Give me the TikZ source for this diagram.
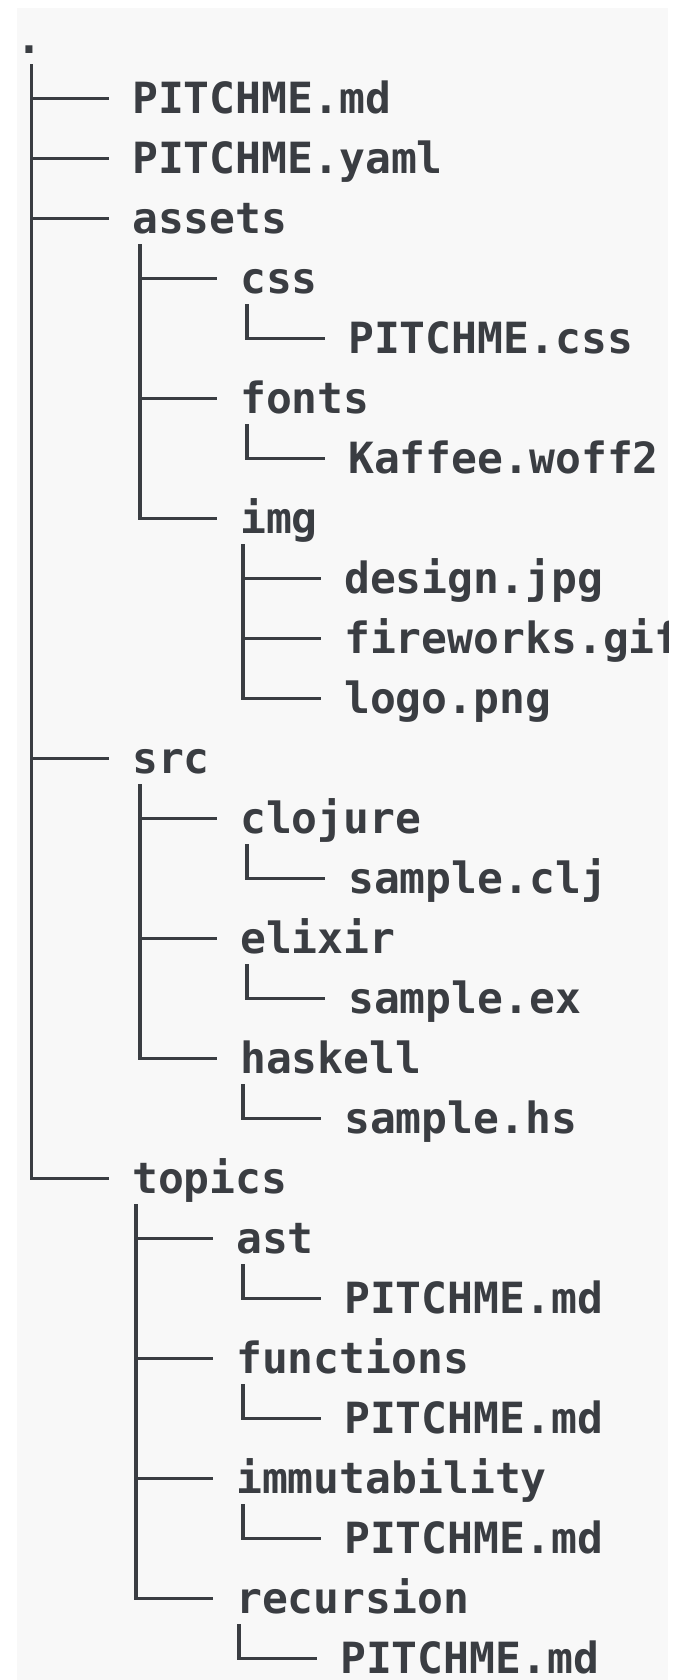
\documentclass[tikz,border=0pt]{standalone}
\usepackage{fontspec}
\usetikzlibrary{calc}
\newfontfamily\treefont{DejaVu Sans Mono}
\definecolor{ink}{HTML}{3A3D42}
\definecolor{paper}{HTML}{F8F8F8}
\tikzset{
  entry/.style={anchor=west, inner sep=0pt, text height=31pt, text depth=0pt,
    text=ink, font=\treefont\bfseries\fontsize{43}{43}\selectfont},
  tree/.style={draw=ink, line width=3.5pt}
}
\newcommand\conn[3]{\draw[tree] ($(#1.west)+(#2,26)$) |- ($(#3.west)+(-23,0)$);}
\begin{document}
\begin{tikzpicture}[x=1pt,y=-1pt]
\useasboundingbox (0,0) rectangle (681,1680);
\fill[white] (0,0) rectangle (681,1680);
\fill[paper] (17,8) rectangle (668,1680);
\begin{scope}
\clip (17,8) rectangle (668,1680);
% rows: y = 38.3 + 60 i
\node[entry] (root)   at (16,38.3)   {.};
\node[entry] (pmd)    at (132,98.3)  {PITCHME.md};
\node[entry] (pyaml)  at (132,158.3) {PITCHME.yaml};
\node[entry] (assets) at (132,218.3) {assets};
\node[entry] (css)    at (240,278.3) {css};
\node[entry] (pcss)   at (348,338.3) {PITCHME.css};
\node[entry] (fonts)  at (240,398.3) {fonts};
\node[entry] (kaffee) at (348,458.3) {Kaffee.woff2};
\node[entry] (img)    at (240,518.3) {img};
\node[entry] (design) at (344,578.3) {design.jpg};
\node[entry] (fire)   at (344,638.3) {fireworks.gif};
\node[entry] (logo)   at (344,698.3) {logo.png};
\node[entry] (src)    at (132,758.3) {src};
\node[entry] (clj)    at (240,818.3) {clojure};
\node[entry] (sclj)   at (348,878.3) {sample.clj};
\node[entry] (ex)     at (240,938.3) {elixir};
\node[entry] (sex)    at (348,998.3) {sample.ex};
\node[entry] (hs)     at (240,1058.3) {haskell};
\node[entry] (shs)    at (344,1118.3) {sample.hs};
\node[entry] (topics) at (132,1178.3) {topics};
\node[entry] (ast)    at (236,1238.3) {ast};
\node[entry] (pa)     at (344,1298.3) {PITCHME.md};
\node[entry] (func)   at (236,1358.3) {functions};
\node[entry] (pf)     at (344,1418.3) {PITCHME.md};
\node[entry] (imm)    at (236,1478.3) {immutability};
\node[entry] (pi)     at (344,1538.3) {PITCHME.md};
\node[entry] (rec)    at (236,1598.3) {recursion};
\node[entry] (pr)     at (340,1658.3) {PITCHME.md};
% level 0
\conn{root}{15.7}{topics}
\conn{root}{15.7}{pmd}
\conn{root}{15.7}{pyaml}
\conn{root}{15.7}{assets}
\conn{root}{15.7}{src}
% assets
\conn{assets}{8}{img}
\conn{assets}{8}{css}
\conn{assets}{8}{fonts}
\conn{css}{7}{pcss}
\conn{fonts}{7}{kaffee}
\conn{img}{3}{logo}
\conn{img}{3}{design}
\conn{img}{3}{fire}
% src
\conn{src}{8}{hs}
\conn{src}{8}{clj}
\conn{src}{8}{ex}
\conn{clj}{7}{sclj}
\conn{ex}{7}{sex}
\conn{hs}{3}{shs}
% topics
\conn{topics}{4}{rec}
\conn{topics}{4}{ast}
\conn{topics}{4}{func}
\conn{topics}{4}{imm}
\conn{ast}{7}{pa}
\conn{func}{7}{pf}
\conn{imm}{7}{pi}
\conn{rec}{3}{pr}
\end{scope}
\end{tikzpicture}
\end{document}
